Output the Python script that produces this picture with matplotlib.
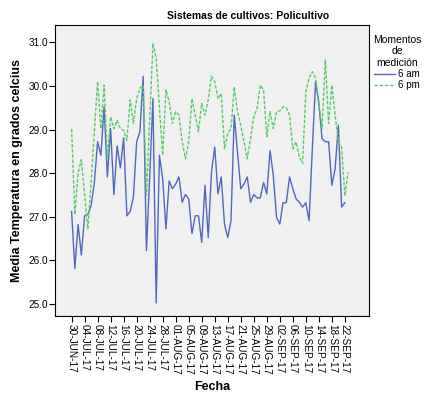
import numpy as np
import pandas as pd
import matplotlib
matplotlib.use('Agg')
from matplotlib import pyplot as plt

# temperatura media diaria (grados C), desde 30-JUN-17
temp_6am = [27.12, 25.81, 26.82, 26.12, 27.02, 27.05, 27.25, 27.79, 28.72, 28.41,
            29.52, 27.91, 29.02, 27.51, 28.62, 28.12, 28.81, 27.02, 27.12, 27.45,
            28.72, 28.95, 30.22, 26.22, 27.90, 29.71, 25.02, 28.41, 27.87, 26.72,
            27.82, 27.64, 27.75, 27.91, 27.33, 27.51, 27.41, 26.61, 27.02, 27.02,
            26.41, 27.72, 26.52, 28.02, 28.60, 27.52, 27.91, 26.83, 26.52, 26.91,
            29.33, 28.48, 27.64, 27.75, 27.91, 27.33, 27.51, 27.43, 27.43, 27.79,
            27.52, 28.52, 27.95, 26.98, 26.83, 27.32, 27.32, 27.91, 27.64, 27.41,
            27.33, 27.22, 27.32, 26.91, 28.56, 30.10, 29.60, 28.79, 28.72, 28.72,
            27.72, 28.10, 29.10, 27.22, 27.32]

temp_6pm = [29.02, 27.05, 28.00, 28.31, 27.50, 26.72, 27.80, 28.95, 30.10, 29.02,
            30.02, 28.33, 29.29, 29.02, 29.21, 29.02, 28.98, 28.75, 29.68, 29.14,
            29.71, 29.95, 30.02, 27.49, 29.20, 30.98, 30.64, 29.50, 28.41, 29.91,
            29.64, 29.14, 29.41, 29.33, 28.72, 28.33, 28.72, 29.71, 29.33, 28.95,
            29.60, 29.33, 29.68, 30.22, 30.10, 29.71, 29.83, 28.56, 28.91, 29.02,
            29.98, 29.41, 29.10, 28.72, 28.33, 28.79, 29.29, 29.48, 30.02, 29.91,
            28.83, 29.41, 29.02, 29.41, 29.43, 29.52, 29.50, 29.33, 28.56, 28.72,
            28.37, 28.22, 29.87, 30.18, 30.33, 30.18, 29.60, 29.02, 30.60, 29.14,
            30.02, 29.33, 28.72, 28.60, 27.48, 28.02]

tick_labels = ['30-JUN-17', '04-JUL-17', '08-JUL-17', '12-JUL-17', '16-JUL-17',
               '20-JUL-17', '24-JUL-17', '28-JUL-17', '01-AUG-17', '05-AUG-17',
               '09-AUG-17', '13-AUG-17', '17-AUG-17', '21-AUG-17', '25-AUG-17',
               '29-AUG-17', '02-SEP-17', '06-SEP-17', '10-SEP-17', '14-SEP-17',
               '18-SEP-17', '22-SEP-17']
y_ticks = [25.0, 26.0, 27.0, 28.0, 29.0, 30.0, 31.0]

plt.rcParams['font.family'] = ['Liberation Sans', 'DejaVu Sans']

start = pd.Timestamp('2017-06-30')
dates_am = pd.date_range(start, periods=len(temp_6am), freq='D')
dates_pm = pd.date_range(start, periods=len(temp_6pm), freq='D')
tick_dates = pd.to_datetime(tick_labels, format='%d-%b-%y')

fig = plt.figure(figsize=(4.28, 3.95), dpi=100)
ax = fig.add_axes([0.1285, 0.2, 0.7335, 0.7367])
ax.set_facecolor('#f0f0f0')

l1, = ax.plot(dates_am, temp_6am, color='#5068bd', lw=1.0, label='6 am')
l2, = ax.plot(dates_pm, temp_6pm, color='#55cc66', lw=1.0,
              linestyle=(0, (2.5, 1.2)), label='6 pm')

ax.set_xlim(start - pd.Timedelta(days=5.1), start + pd.Timedelta(days=91.4))
ax.set_ylim(24.72, 31.4)
ax.set_xticks(tick_dates)
ax.set_xticklabels(tick_labels, rotation=-90, fontsize=7.2)
ax.set_yticks(y_ticks)
ax.set_yticklabels(['%.1f' % v for v in y_ticks], fontsize=7.2)
ax.tick_params(direction='out', length=4, width=0.8)
ax.tick_params(axis='x', pad=2)
ax.tick_params(axis='y', pad=1)

for s in ax.spines.values():
    s.set_color('black')
    s.set_linewidth(0.8)

ax.set_xlabel('Fecha', fontsize=9, fontweight='bold', labelpad=4)
ax.set_ylabel('Media Temperatura en grados celcius', fontsize=9,
              fontweight='bold', labelpad=4)

fig.text(248 / 428, 1 - 16 / 395, 'Sistemas de cultivos: Policultivo',
         ha='center', va='center', fontsize=7.5, fontweight='bold')

leg = fig.legend(handles=[l1, l2], title='Momentos\nde\nmedición',
                 loc='upper center', bbox_to_anchor=(397 / 428, 1 - 28 / 395),
                 frameon=False, fontsize=7, title_fontsize=7.5,
                 handlelength=2.2, handletextpad=0.3, labelspacing=0.1,
                 borderpad=0.2)
leg.get_title().set_multialignment('center')

fig.savefig('out.png', dpi=100)
